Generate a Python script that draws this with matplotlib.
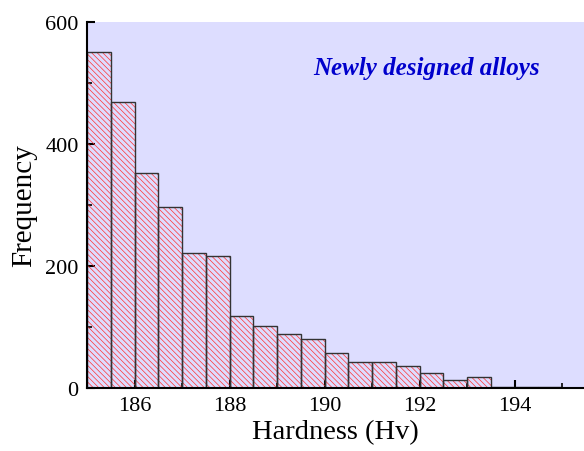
import numpy as np
import matplotlib
matplotlib.use("Agg")
import matplotlib.pyplot as plt
from matplotlib.ticker import MultipleLocator

# Data: histogram of hardness (bin width 0.5 Hv)
bin_starts = [185.0, 185.5, 186.0, 186.5, 187.0, 187.5, 188.0, 188.5, 189.0, 189.5,
              190.0, 190.5, 191.0, 191.5, 192.0, 192.5, 193.0, 193.5, 194.0, 194.5]
counts = [551, 469, 353, 296, 221, 217, 118, 101, 88, 81,
          57, 43, 43, 36, 25, 13, 18, 2, 1, 1]
bin_width = 0.5
xticks = [186, 188, 190, 192, 194]
yticks = [0, 200, 400, 600]

plt.rcParams['font.family'] = ['Liberation Serif', 'DejaVu Serif']
plt.rcParams['hatch.linewidth'] = 0.5

fig = plt.figure(figsize=(5.84, 4.52), dpi=100)
ax = fig.add_axes([87/584, 1 - 389/452, 1 - 87/584, (389 - 23)/452])
ax.set_facecolor('#DDDDFF')

ax.bar(bin_starts, counts, width=bin_width, align='edge', facecolor='none',
       edgecolor='#FF3333', hatch='\\' * 6, linewidth=0, zorder=2)
ax.bar(bin_starts, counts, width=bin_width, align='edge', facecolor='none',
       edgecolor='#333333', linewidth=1.0, zorder=3)

ax.set_xlim(185, 185 + (584 - 87) / 47.5)
ax.set_ylim(0, 600)
ax.set_xticks(xticks)
ax.set_yticks(yticks)
ax.xaxis.set_minor_locator(MultipleLocator(1))
ax.yaxis.set_minor_locator(MultipleLocator(100))
ax.tick_params(which='major', direction='in', length=6, width=1.5, labelsize=16, pad=6)
ax.tick_params(which='minor', direction='in', length=3.5, width=1.2)
ax.spines['top'].set_visible(False)
ax.spines['right'].set_visible(False)
for s in ('left', 'bottom'):
    ax.spines[s].set_linewidth(1.5)
    ax.spines[s].set_zorder(4)

ax.set_xlabel('Hardness (Hv)', fontsize=20.5, labelpad=3)
ax.set_ylabel('Frequency', fontsize=21, labelpad=6)

ax.text(189.76, 526, 'Newly designed alloys', color='#0000CC', fontsize=18,
        fontweight='bold', fontstyle='italic', va='center', ha='left')

fig.savefig('out.png', dpi=100)
